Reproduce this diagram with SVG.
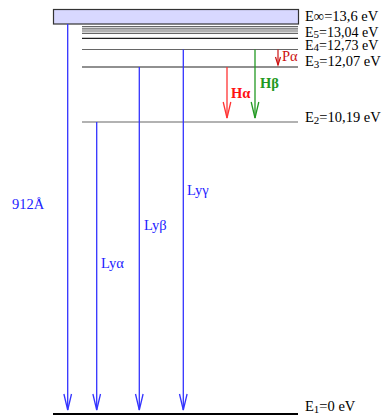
<svg xmlns="http://www.w3.org/2000/svg" width="387" height="418" viewBox="0 0 387 418">
<defs>
<style>
text{font-family:"Liberation Serif","Times New Roman",serif;font-size:14.5px}
.lbl{fill:#000}
.lvl{font-size:14px}
.blue{fill:#2222ff}
.lv{stroke:#222;stroke-width:1.2;fill:none}
.lvg{stroke:#666;stroke-width:1.2;fill:none}
.ab{stroke:#3333ff;stroke-width:1.3;fill:none}
marker{overflow:visible}
</style>
<marker id="hb" markerUnits="userSpaceOnUse" markerWidth="20" markerHeight="12" viewBox="-18 -6 20 12" refX="0" refY="0" orient="auto">
<path d="M-16,-3.8 L0,0 L-16,3.8" fill="none" stroke="#3333ff" stroke-width="1.3"/>
</marker>
<marker id="hr" markerUnits="userSpaceOnUse" markerWidth="20" markerHeight="12" viewBox="-18 -6 20 12" refX="0" refY="0" orient="auto">
<path d="M-16,-3.8 L0,0 L-16,3.8" fill="none" stroke="#ff3333" stroke-width="1.3"/>
</marker>
<marker id="hg" markerUnits="userSpaceOnUse" markerWidth="20" markerHeight="12" viewBox="-18 -6 20 12" refX="0" refY="0" orient="auto">
<path d="M-16,-3.8 L0,0 L-16,3.8" fill="none" stroke="#229922" stroke-width="1.3"/>
</marker>
<marker id="hp" markerUnits="userSpaceOnUse" markerWidth="12" markerHeight="8" viewBox="-10 -4 12 8" refX="0" refY="0" orient="auto">
<path d="M-8,-2.5 L0,0 L-8,2.5" fill="none" stroke="#cc1111" stroke-width="1.2"/>
</marker>
</defs>

<g id="continuum">
<rect x="53.5" y="9.5" width="245" height="14.5" fill="#d8d8ff" stroke="#333" stroke-width="1.2"/>
<text class="lbl" x="305" y="21">E∞=13,6 eV</text>
</g>

<g id="levels-high">
<line class="lvg" x1="82" y1="26.7" x2="298" y2="26.7"/>
<line class="lvg" x1="82" y1="28.8" x2="298" y2="28.8"/>
<line class="lvg" x1="82" y1="31" x2="298" y2="31"/>
<line class="lvg" x1="82" y1="33.3" x2="298" y2="33.3"/>
</g>

<g id="E5">
<line class="lv" x1="82" y1="38.3" x2="298" y2="38.3" stroke="#000"/>
<text class="lbl lvl" x="305" y="37">E<tspan font-size="11px" dy="1">5</tspan><tspan dy="-1">=13,04 eV</tspan></text>
</g>

<g id="E4">
<line class="lvg" x1="82" y1="49.5" x2="298" y2="49.5"/>
<text class="lbl lvl" x="305" y="49.5">E<tspan font-size="11px" dy="1">4</tspan><tspan dy="-1">=12,73 eV</tspan></text>
</g>

<g id="E3">
<line class="lv" x1="82" y1="67" x2="298" y2="67"/>
<text class="lbl" x="305" y="66">E<tspan font-size="11px" dy="2">3</tspan><tspan dy="-2">=12,07 eV</tspan></text>
</g>

<g id="E2">
<line class="lvg" x1="82" y1="122" x2="298" y2="122"/>
<text class="lbl" x="305" y="122">E<tspan font-size="11px" dy="2">2</tspan><tspan dy="-2">=10,19 eV</tspan></text>
</g>

<g id="E1">
<line x1="53" y1="414" x2="298" y2="414" stroke="#000" stroke-width="2"/>
<text class="lbl" x="305" y="411">E<tspan font-size="11px" dy="2">1</tspan><tspan dy="-2">=0 eV</tspan></text>
</g>

<g id="connectors">
<line class="ab" x1="67.7" y1="24" x2="67.7" y2="410" marker-end="url(#hb)"/>
<line class="ab" x1="96.7" y1="122" x2="96.7" y2="410" marker-end="url(#hb)"/>
<line class="ab" x1="139.3" y1="67" x2="139.3" y2="410" marker-end="url(#hb)"/>
<line class="ab" x1="183.3" y1="49.5" x2="183.3" y2="410" marker-end="url(#hb)"/>
<line x1="227" y1="67" x2="227" y2="118" stroke="#ff3333" stroke-width="1.3" marker-end="url(#hr)"/>
<line x1="255" y1="49.5" x2="255" y2="118" stroke="#229922" stroke-width="1.3" marker-end="url(#hg)"/>
<line x1="278" y1="49.5" x2="278" y2="65" stroke="#cc1111" stroke-width="1.2" marker-end="url(#hp)"/>
</g>

<g id="labels">
<text class="blue" x="12" y="209">912Å</text>
<text class="blue" x="101" y="268">Lyα</text>
<text class="blue" x="144" y="230">Lyβ</text>
<text class="blue" x="187" y="195">Lyγ</text>
<text x="231" y="98" fill="#ff1111" font-weight="bold">Hα</text>
<text x="260" y="88" fill="#229922" font-weight="bold">Hβ</text>
<text x="282" y="61" fill="#cc1111">Pα</text>
</g>
</svg>
